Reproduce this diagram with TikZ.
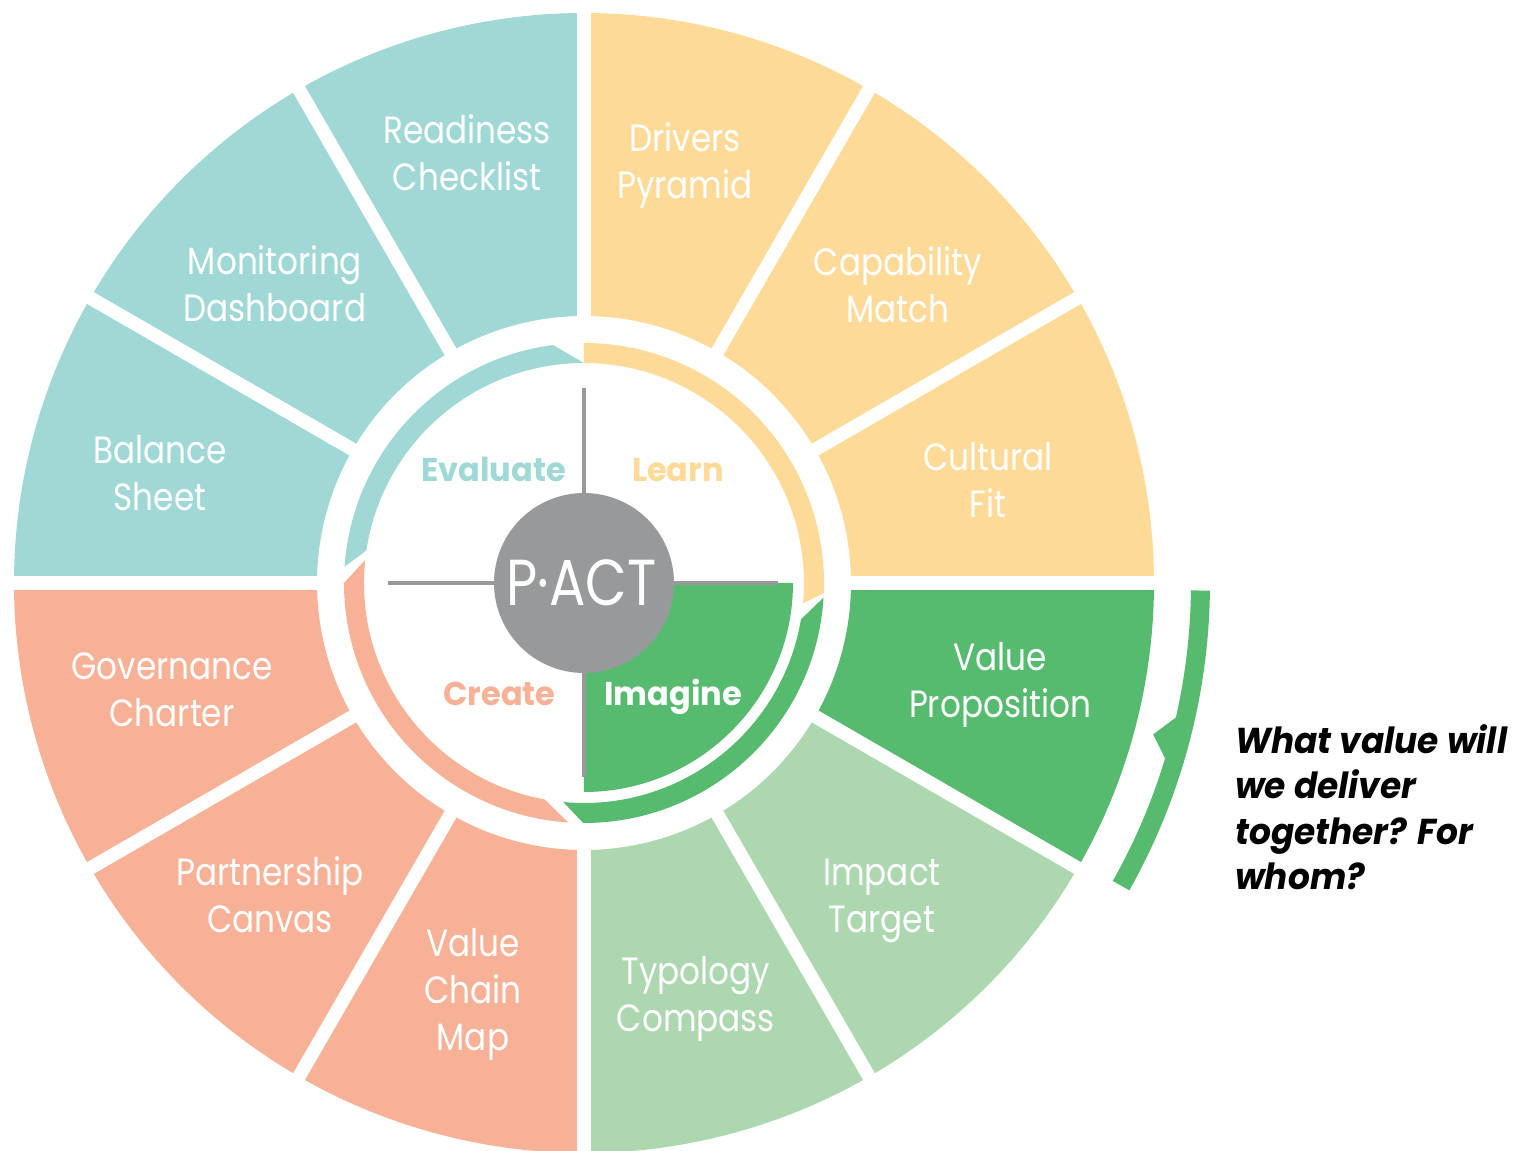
\documentclass[tikz,border=0pt]{standalone}
\usepackage{fontspec}
\newfontfamily\labfont{Poppins}[FakeStretch=0.86]
\newfontfamily\pactfont{Poppins}[FakeStretch=0.83]
\newfontfamily\boldfont{Poppins Bold}[FakeStretch=0.97]
\newfontfamily\quefont{Poppins Bold Italic}[FakeStretch=0.955]
\definecolor{cTeal}{HTML}{A0D8D6}
\definecolor{cYel}{HTML}{FDDA98}
\definecolor{cDG}{HTML}{57BB6F}
\definecolor{cLG}{HTML}{ACD7AF}
\definecolor{cSal}{HTML}{F6B196}
\definecolor{cGray}{HTML}{98999B}
\begin{document}
\begin{tikzpicture}[x=1pt,y=1pt,
  seglabel/.style={text=white, font={\labfont\fontsize{38}{47}\selectfont}, align=center, inner sep=0pt},
  phase/.style={font={\boldfont\fontsize{33}{38}\selectfont}, inner sep=0pt, anchor=base},
  gapline/.style={white, line width=13.5pt},
  axisline/.style={cGray, line width=4.5pt}]
\useasboundingbox (-584,-568) rectangle (932,583);
\fill[white] (-584,-568) rectangle (932,583);

% outer segments
\foreach \a/\c in {60/cYel,30/cYel,0/cYel,-30/cDG,-60/cLG,-90/cLG,-120/cSal,-150/cSal,-180/cSal,150/cTeal,120/cTeal,90/cTeal}
  \fill[\c] (\a:267) -- (\a:570) arc[start angle=\a, end angle=\a+30, radius=570]
     -- (\a+30:267) arc[start angle=\a+30, end angle=\a, radius=267] -- cycle;
\foreach \a in {0,30,...,330}
  \draw[gapline] (\a:250) -- (\a:590);

% inner ring arcs
\fill[cTeal] (90:220) -- (97.4:240) arc[start angle=97.4, end angle=176.1, radius=240]
   -- (171.5:220) arc[start angle=171.5, end angle=90, radius=220] -- cycle;
\fill[cSal] (174:220) -- (180:240) arc[start angle=180, end angle=266.2, radius=240]
   -- (259.7:220) arc[start angle=259.7, end angle=174, radius=220] -- cycle;
\fill[cDG] (264.6:220) -- (269.8:240) arc[start angle=269.8, end angle=356.5, radius=240]
   -- (350.5:220) arc[start angle=350.5, end angle=264.6, radius=220] -- cycle;
\fill[cYel] (90:220) -- (90:240) arc[start angle=90, end angle=-2.4, radius=240]
   -- (-5.3:220) arc[start angle=-5.3, end angle=90, radius=220] -- cycle;

% Imagine quadrant
\fill[cDG] (0,0) -- (0:209) arc[start angle=0, end angle=-90, radius=209] -- cycle;

% axes
\coordinate (axW) at (-196,0);
\coordinate (axE) at (194,0);
\coordinate (axN) at (0,195);
\coordinate (axS) at (0,-194);
\draw[axisline] (axW) -- (axE);
\draw[axisline] (axN) -- (axS);

% centre
\fill[cGray] (0,0) circle[radius=90];
\node[text=white, font={\pactfont\fontsize{65}{70}\selectfont}, inner sep=0pt, anchor=base] (pact) at (-2.5,-22.5) {P·ACT};

% phase labels
\node[phase, text=cTeal] (evaluate) at (-90.5,101) {Evaluate};
\node[phase, text=cYel] (learn) at (94,101) {Learn};
\node[phase, text=cSal] (create) at (-84.5,-122) {Create};
\node[phase, text=white] (imagine) at (89,-122) {Imagine};

% segment labels
\node[seglabel] (readiness) at (-117,430.5) {Readiness\\Checklist};
\node[seglabel] (drivers) at (101,418) {Drivers\\Pyramid};
\node[seglabel] (capability) at (314,298) {Capability\\Match};
\node[seglabel] (cultural) at (404,103.5) {Cultural\\Fit};
\node[seglabel] (valueprop) at (416,-101.5) {Value\\Proposition};
\node[seglabel] (impact) at (298,-318) {Impact\\Target};
\node[seglabel] (typology) at (112,-416) {Typology\\Compass};
\node[seglabel] (valuechain) at (-111,-411) {Value\\Chain\\Map};
\node[seglabel] (partnership) at (-314,-312) {Partnership\\Canvas};
\node[seglabel] (governance) at (-412,-107) {Governance\\Charter};
\node[seglabel] (balance) at (-424,109.5) {Balance\\Sheet};
\node[seglabel] (monitoring) at (-309,299) {Monitoring\\Dashboard};

% bracket
\fill[cDG] (-0.7:607) -- (-0.7:626) arc[start angle=-0.7, end angle=-29.4, radius=626]
   -- (-29.4:607) arc[start angle=-29.4, end angle=-16.8, radius=607]
   -- (-14.9:589) -- (-12.8:607) arc[start angle=-12.8, end angle=-0.7, radius=607] -- cycle;

% question
\node[anchor=west, align=left, inner sep=0pt, font={\quefont\fontsize{36}{45.5}\selectfont}] (question) at (651,-224)
  {What value will\\we deliver\\together? For\\whom?};
\end{tikzpicture}
\end{document}
